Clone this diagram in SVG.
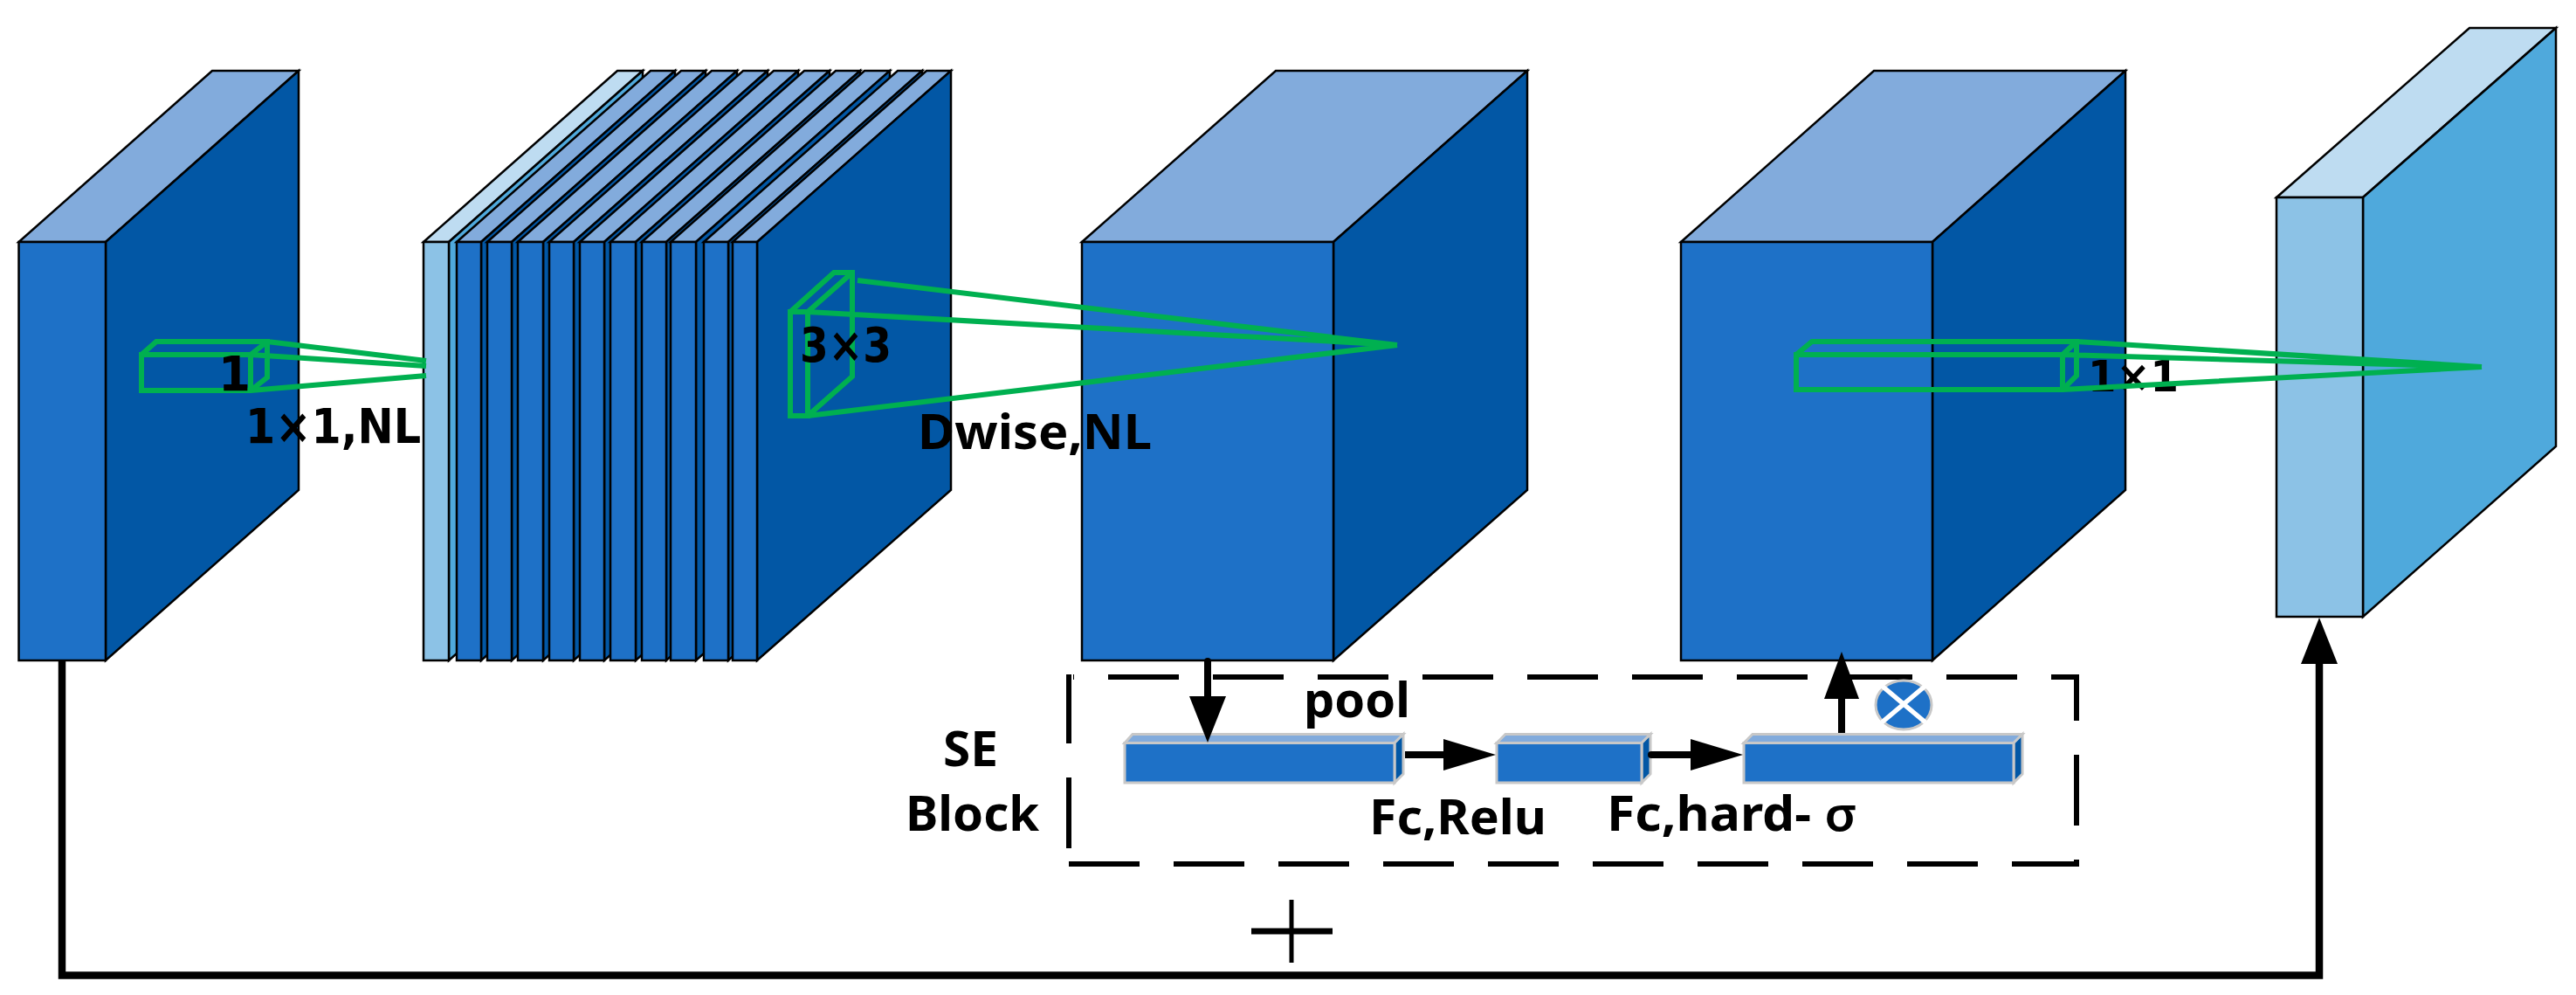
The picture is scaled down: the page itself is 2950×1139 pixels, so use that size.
<svg xmlns="http://www.w3.org/2000/svg" width="2950" height="1139" viewBox="0 0 2950 1139">
<style>
.e{stroke:#000;stroke-width:2.500;stroke-linejoin:miter}
.f{fill:#1e71c7}.s{fill:#0257a5}.t{fill:#82abdc}
.lf{fill:#8cc2e6}.ls{fill:#4fa9dc}.lt{fill:#bedcf1}
.g{fill:none;stroke:#00b050;stroke-width:6;stroke-linejoin:miter}
.se{stroke:#c8c8c8;stroke-width:3}
.k{fill:none;stroke:#000}
.a{fill:#000;stroke:none}
text{font-family:"Noto Sans","Open Sans",sans-serif;font-weight:700;font-size:55px;fill:#000}
text.d{font-family:"DejaVu Sans",sans-serif}
</style>
<rect width="2950" height="1139" fill="#fff"/>
<g id="block1" class="e">
<polygon class="t" points="21.500,277 243,81 342,81 121,277"/>
<polygon class="s" points="121,277 342,81 342,561 121,756"/>
<rect class="f" x="21.500" y="277" width="99.500" height="479"/>
</g>
<g id="block2" class="e">
<polygon class="lt" points="485,277 707,81 736,81 514,277"/>
<polygon class="ls" points="514,277 736,81 736,561 514,756"/>
<rect class="lf" x="485" y="277" width="29" height="479"/>
<polygon class="t" points="523,277 745,81 773,81 551,277"/><polygon class="s" points="551,277 773,81 773,561 551,756"/><rect class="f" x="523" y="277" width="28" height="479"/>
<polygon class="t" points="558,277 780,81 808,81 586,277"/><polygon class="s" points="586,277 808,81 808,561 586,756"/><rect class="f" x="558" y="277" width="28" height="479"/>
<polygon class="t" points="593,277 815,81 844,81 622,277"/><polygon class="s" points="622,277 844,81 844,561 622,756"/><rect class="f" x="593" y="277" width="29" height="479"/>
<polygon class="t" points="629,277 851,81 879,81 657,277"/><polygon class="s" points="657,277 879,81 879,561 657,756"/><rect class="f" x="629" y="277" width="28" height="479"/>
<polygon class="t" points="664,277 886,81 914,81 692,277"/><polygon class="s" points="692,277 914,81 914,561 692,756"/><rect class="f" x="664" y="277" width="28" height="479"/>
<polygon class="t" points="699,277 921,81 950,81 728,277"/><polygon class="s" points="728,277 950,81 950,561 728,756"/><rect class="f" x="699" y="277" width="29" height="479"/>
<polygon class="t" points="735,277 957,81 985,81 763,277"/><polygon class="s" points="763,277 985,81 985,561 763,756"/><rect class="f" x="735" y="277" width="28" height="479"/>
<polygon class="t" points="768,277 990,81 1019,81 797,277"/><polygon class="s" points="797,277 1019,81 1019,561 797,756"/><rect class="f" x="768" y="277" width="29" height="479"/>
<polygon class="t" points="806,277 1028,81 1056,81 834,277"/><polygon class="s" points="834,277 1056,81 1056,561 834,756"/><rect class="f" x="806" y="277" width="28" height="479"/>
<polygon class="t" points="839,277 1061,81 1089,81 867,277"/><polygon class="s" points="867,277 1089,81 1089,561 867,756"/><rect class="f" x="839" y="277" width="28" height="479"/>
</g>
<g id="block3" class="e">
<polygon class="t" points="1239,277 1461,81 1749,81 1527,277"/>
<polygon class="s" points="1527,277 1749,81 1749,561 1527,756"/>
<rect class="f" x="1239" y="277" width="288" height="479"/>
</g>
<g id="block4" class="e">
<polygon class="t" points="1925,277 2146,81 2434,81 2213,277"/>
<polygon class="s" points="2213,277 2434,81 2434,561 2213,756"/>
<rect class="f" x="1925" y="277" width="288" height="479"/>
</g>
<g id="block5" class="e">
<polygon class="lt" points="2607,226 2828,32 2927,32 2706,226"/>
<polygon class="ls" points="2706,226 2927,32 2927,511 2706,706"/>
<rect class="lf" x="2607" y="226" width="99" height="480"/>
</g>
<text class="d" x="2391" y="448" style="font-size:50px" textLength="104" lengthAdjust="spacingAndGlyphs">1×1</text>
<g id="kernel1">
<path class="g" d="M162,406H287V447H162ZM162,406L179,391H306V432L287,447M287,406L306,391M306,391L488,413M287,406L488,419M287,447L488,430"/>
</g>
<g id="kernel2">
<path class="g" d="M905,357H925V476H905ZM905,357L955,312H976V431L925,476M925,357L976,312M982,321L1600,395M925,357L1600,395M925,476L1600,395"/>
</g>
<g id="kernel3">
<path class="g" d="M2057,406H2362V446H2057ZM2057,406L2075,391H2378V430L2362,446M2362,406L2378,391M2378,391L2842,420M2362,406L2842,420M2362,446L2842,420"/>
</g>
<g id="se-box" class="k" stroke-width="6">
<path stroke-dasharray="81 39" stroke-dashoffset="80" d="M1229,775H2381"/>
<path stroke-dasharray="81 39" d="M1224,989H2381"/>
<path d="M1224,772V851M1224,890V971M2378,772V825M2378,864V945M2378,984V989"/>
</g>
<g id="se1" class="se">
<polygon class="t" points="1288,850.500 1297,840.500 1607,840.500 1597,850.500"/>
<polygon class="s" points="1597,850.500 1607,840.500 1607,886 1597,896"/>
<rect class="f" x="1288" y="850.500" width="309" height="45.500"/>
</g>
<g id="se2" class="se">
<polygon class="t" points="1714,850.500 1724,840.500 1890,840.500 1880,850.500"/>
<polygon class="s" points="1880,850.500 1890,840.500 1890,886 1880,896"/>
<rect class="f" x="1714" y="850.500" width="166" height="45.500"/>
</g>
<g id="se3" class="se">
<polygon class="t" points="1997,850.500 2007,840.500 2316,840.500 2306,850.500"/>
<polygon class="s" points="2306,850.500 2316,840.500 2316,886 2306,896"/>
<rect class="f" x="1997" y="850.500" width="309" height="45.500"/>
</g>
<g id="multiply">
<ellipse cx="2180" cy="807" rx="32" ry="28" fill="#1e71c7" stroke="#c8c8c8" stroke-width="3"/>
<path d="M2155,785L2205,827M2205,785L2155,827" stroke="#fff" stroke-width="5.500" fill="none"/>
</g>
<g id="connectors">
<path class="k" stroke-width="8" stroke-linecap="round" d="M1383,757V800"/>
<polygon class="a" points="1362,797 1404,797 1383,850"/>
<path class="k" stroke-width="8" d="M1609,864H1656"/>
<polygon class="a" points="1653,846 1653,882 1713,864"/>
<path class="k" stroke-width="8" stroke-linecap="round" d="M1891,864H1939"/>
<polygon class="a" points="1936,846 1936,882 1996,864"/>
<path class="k" stroke-width="8" d="M2109,839V795"/>
<polygon class="a" points="2089,800 2129,800 2109,746"/>
<path class="k" stroke-width="8.500" d="M71,757V1116.500H2656V755"/>
<polygon class="a" points="2635,760 2677,760 2656,707"/>
<path class="k" stroke-width="7" d="M1433,1066H1526"/>
<path class="k" stroke-width="5" d="M1479,1030V1102"/>
</g>
<g id="labels">
<text class="d" x="250" y="447" textLength="37" lengthAdjust="spacingAndGlyphs">1</text>
<text class="d" x="281" y="507" textLength="201" lengthAdjust="spacingAndGlyphs">1×1,NL</text>
<text class="d" x="916" y="414" textLength="105" lengthAdjust="spacingAndGlyphs">3×3</text>
<text x="1051" y="514" textLength="268" lengthAdjust="spacingAndGlyphs">Dwise,NL</text>
<text x="1493" y="821" textLength="122" lengthAdjust="spacingAndGlyphs">pool</text>
<text x="1080" y="877" textLength="63" lengthAdjust="spacingAndGlyphs">SE</text>
<text x="1037" y="951" textLength="153" lengthAdjust="spacingAndGlyphs">Block</text>
<text x="1568" y="955" textLength="203" lengthAdjust="spacingAndGlyphs">Fc,Relu</text>
<text x="1840" y="951" textLength="287" lengthAdjust="spacingAndGlyphs">Fc,hard- <tspan style="font-weight:600">σ</tspan></text>
</g>
</svg>
